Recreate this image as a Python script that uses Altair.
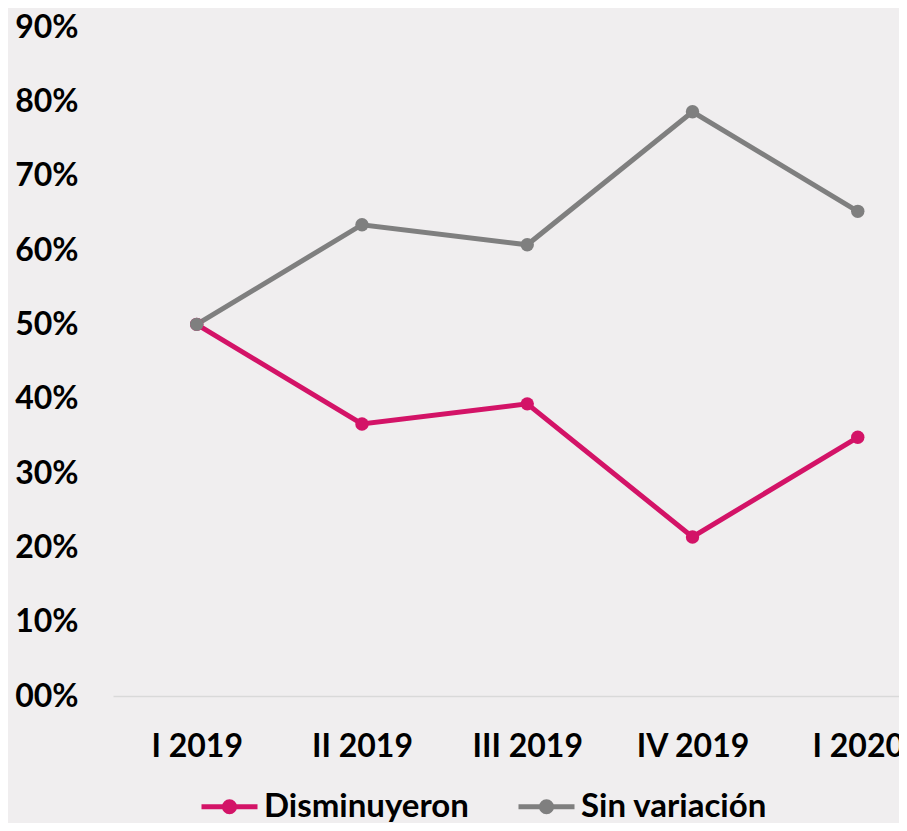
import altair as alt
import pandas as pd

quarters = ["I 2019", "II 2019", "III 2019", "IV 2019", "I 2020"]
disminuyeron = [0.500, 0.366, 0.393, 0.214, 0.348]
sin_variacion = [0.500, 0.634, 0.607, 0.786, 0.652]
series_names = ["Disminuyeron", "Sin variación"]
series_colors = ["#D31367", "#7F7F7F"]
y_ticks = [0.0, 0.1, 0.2, 0.3, 0.4, 0.5, 0.6, 0.7, 0.8, 0.9]

rows = []
for q, d, s in zip(quarters, disminuyeron, sin_variacion):
    rows.append({"trimestre": q, "serie": series_names[0], "valor": d})
    rows.append({"trimestre": q, "serie": series_names[1], "valor": s})
df = pd.DataFrame(rows)

FONT = "Lato"
LEGEND_PATH = (
    "M-1,0L1,0"
    "M0.18,0A0.18,0.18 0 1,1 -0.18,0A0.18,0.18 0 1,1 0.18,0"
    "M0.06,0A0.06,0.06 0 1,1 -0.06,0A0.06,0.06 0 1,1 0.06,0"
)

x = alt.X(
    "trimestre:N",
    sort=quarters,
    scale=alt.Scale(type="point", padding=0.378, align=0.67),
    axis=alt.Axis(
        title=None, labelAngle=0, ticks=False, grid=False,
        domainColor="#D9D9D9", domainWidth=1.5,
        labelPadding=35, labelFontSize=32, labelFontWeight="bold",
        labelColor="#000000", labelFont=FONT, labelLimit=0,
    ),
)
y = alt.Y(
    "valor:Q",
    scale=alt.Scale(domain=[0, 0.9], nice=False, zero=True),
    axis=alt.Axis(
        title=None, values=y_ticks, domain=False, ticks=False, grid=False,
        labelExpr="datum.value == 0 ? '00%' : format(datum.value, '.0%')",
        labelPadding=35, labelFontSize=32, labelFontWeight="bold",
        labelColor="#000000", labelFont=FONT,
    ),
)
color = alt.Color(
    "serie:N",
    scale=alt.Scale(domain=series_names, range=series_colors),
    legend=alt.Legend(
        title=None, orient="none", legendX=86, legendY=749,
        direction="horizontal", symbolType=LEGEND_PATH, symbolSize=3136,
        symbolStrokeWidth=5, symbolOpacity=1,
        labelFontSize=33, labelFontWeight="bold", labelColor="#000000",
        labelFont=FONT, labelOffset=4, columnPadding=39, labelLimit=0,
    ),
)

base = alt.Chart(df).encode(x=x, y=y, color=color)
lines = base.mark_line(strokeWidth=5)
points = base.mark_circle(size=180, opacity=1)

chart = (
    alt.layer(lines, points)
    .properties(
        width=786,
        height=669,
        background="#F0EEEF",
        padding={"left": 105, "top": 19, "right": 0, "bottom": 127},
        autosize=alt.AutoSizeParams(type="none"),
    )
    .configure_view(stroke=None)
)

chart.save("out.html", embed_options={"renderer": "svg", "actions": False})
